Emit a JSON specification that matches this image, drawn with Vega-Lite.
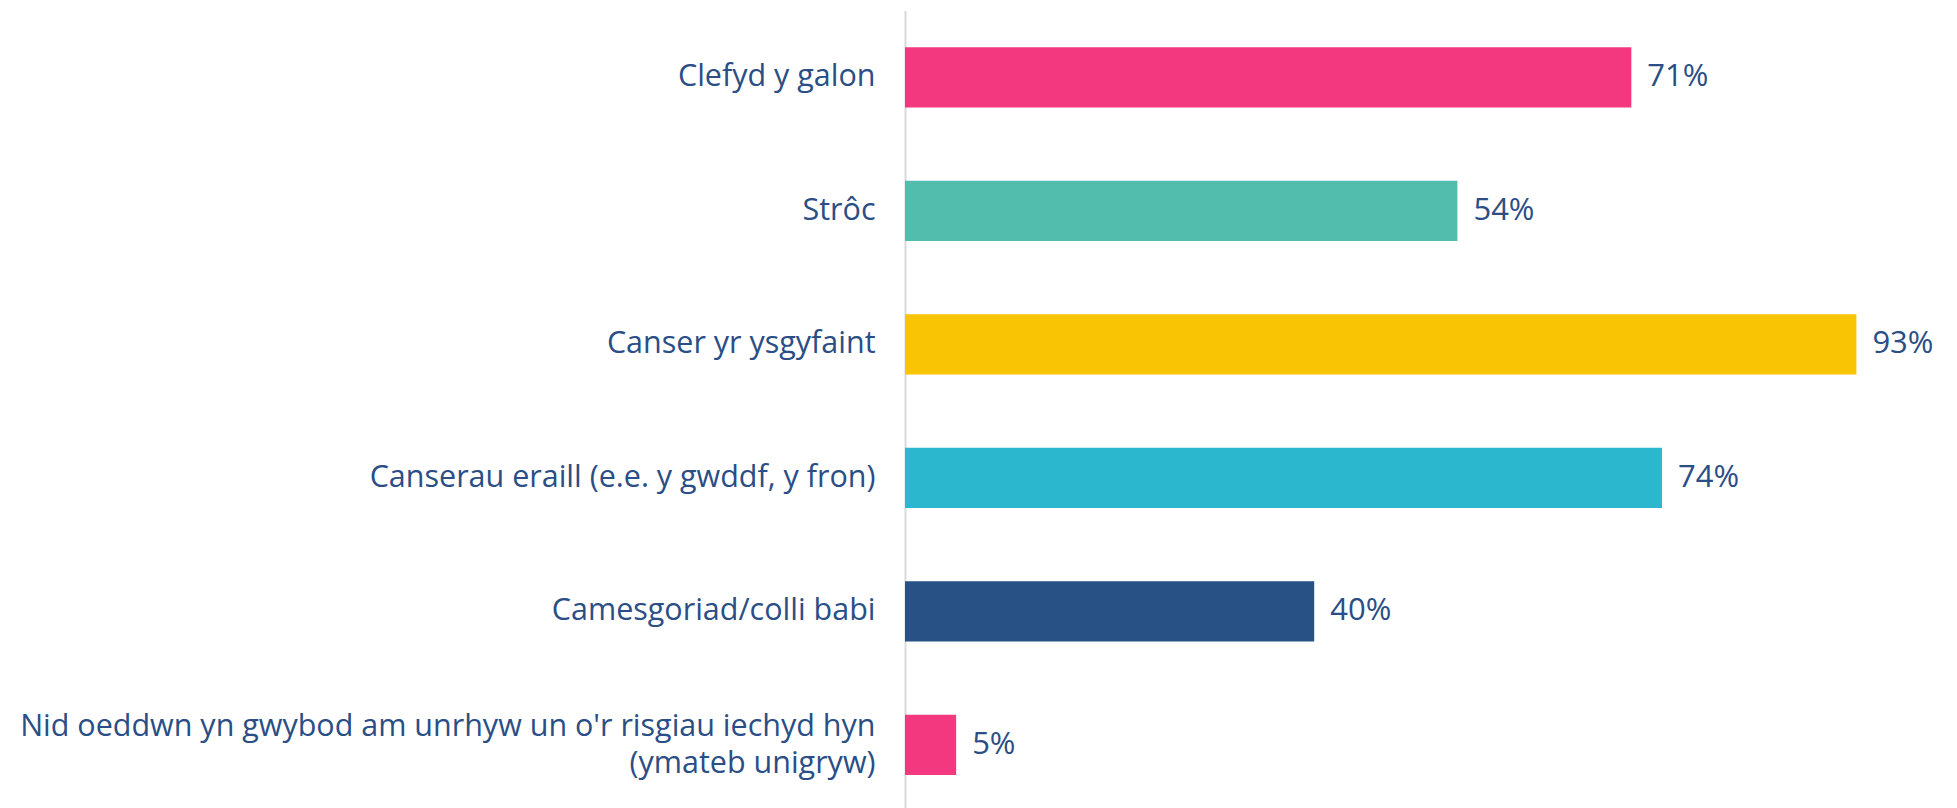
{
  "$schema": "https://vega.github.io/schema/vega-lite/v6.json",
  "autosize": {"type": "none"},
  "padding": {"left": 905, "top": 10.6, "right": 29, "bottom": 0},
  "width": 1023,
  "height": 801,
  "background": "white",
  "config": {"view": {"stroke": null}, "font": "Open Sans"},
  "data": {
    "values": [
      {"label": "Clefyd y galon", "value": 0.71, "color": "#f4387f"},
      {"label": "Strôc", "value": 0.54, "color": "#52bcad"},
      {"label": "Canser yr ysgyfaint", "value": 0.93, "color": "#f9c404"},
      {"label": "Canserau eraill (e.e. y gwddf, y fron)", "value": 0.74, "color": "#2bb8cf"},
      {"label": "Camesgoriad/colli babi", "value": 0.40, "color": "#285185"},
      {"label": "Nid oeddwn yn gwybod am unrhyw un o'r risgiau iechyd hyn|(ymateb unigryw)", "value": 0.05, "color": "#f4387f"}
    ]
  },
  "encoding": {
    "y": {
      "field": "label",
      "type": "nominal",
      "sort": null,
      "scale": {"paddingInner": 0.55, "paddingOuter": 0.275},
      "axis": {
        "title": null,
        "ticks": false,
        "domainColor": "#d9d9d9",
        "domainWidth": 2,
        "labelPadding": 30,
        "labelFontSize": 30.5,
        "labelColor": "#2a4e85",
        "labelLimit": 0,
        "labelLineHeight": 37,
        "labelOffset": {"condition": {"test": "indexof(datum.value, '|') >= 0", "value": -18}, "value": 0},
        "labelExpr": "split(datum.value, '|')"
      }
    },
    "x": {
      "field": "value",
      "type": "quantitative",
      "scale": {"domain": [0, 1]},
      "axis": null
    }
  },
  "layer": [
    {
      "mark": {"type": "bar"},
      "encoding": {"color": {"field": "color", "type": "nominal", "scale": null}}
    },
    {
      "mark": {"type": "text", "align": "left", "baseline": "middle", "dx": 16, "fontSize": 31, "color": "#2a4e85"},
      "encoding": {"text": {"field": "value", "type": "quantitative", "format": ".0%"}}
    }
  ]
}
